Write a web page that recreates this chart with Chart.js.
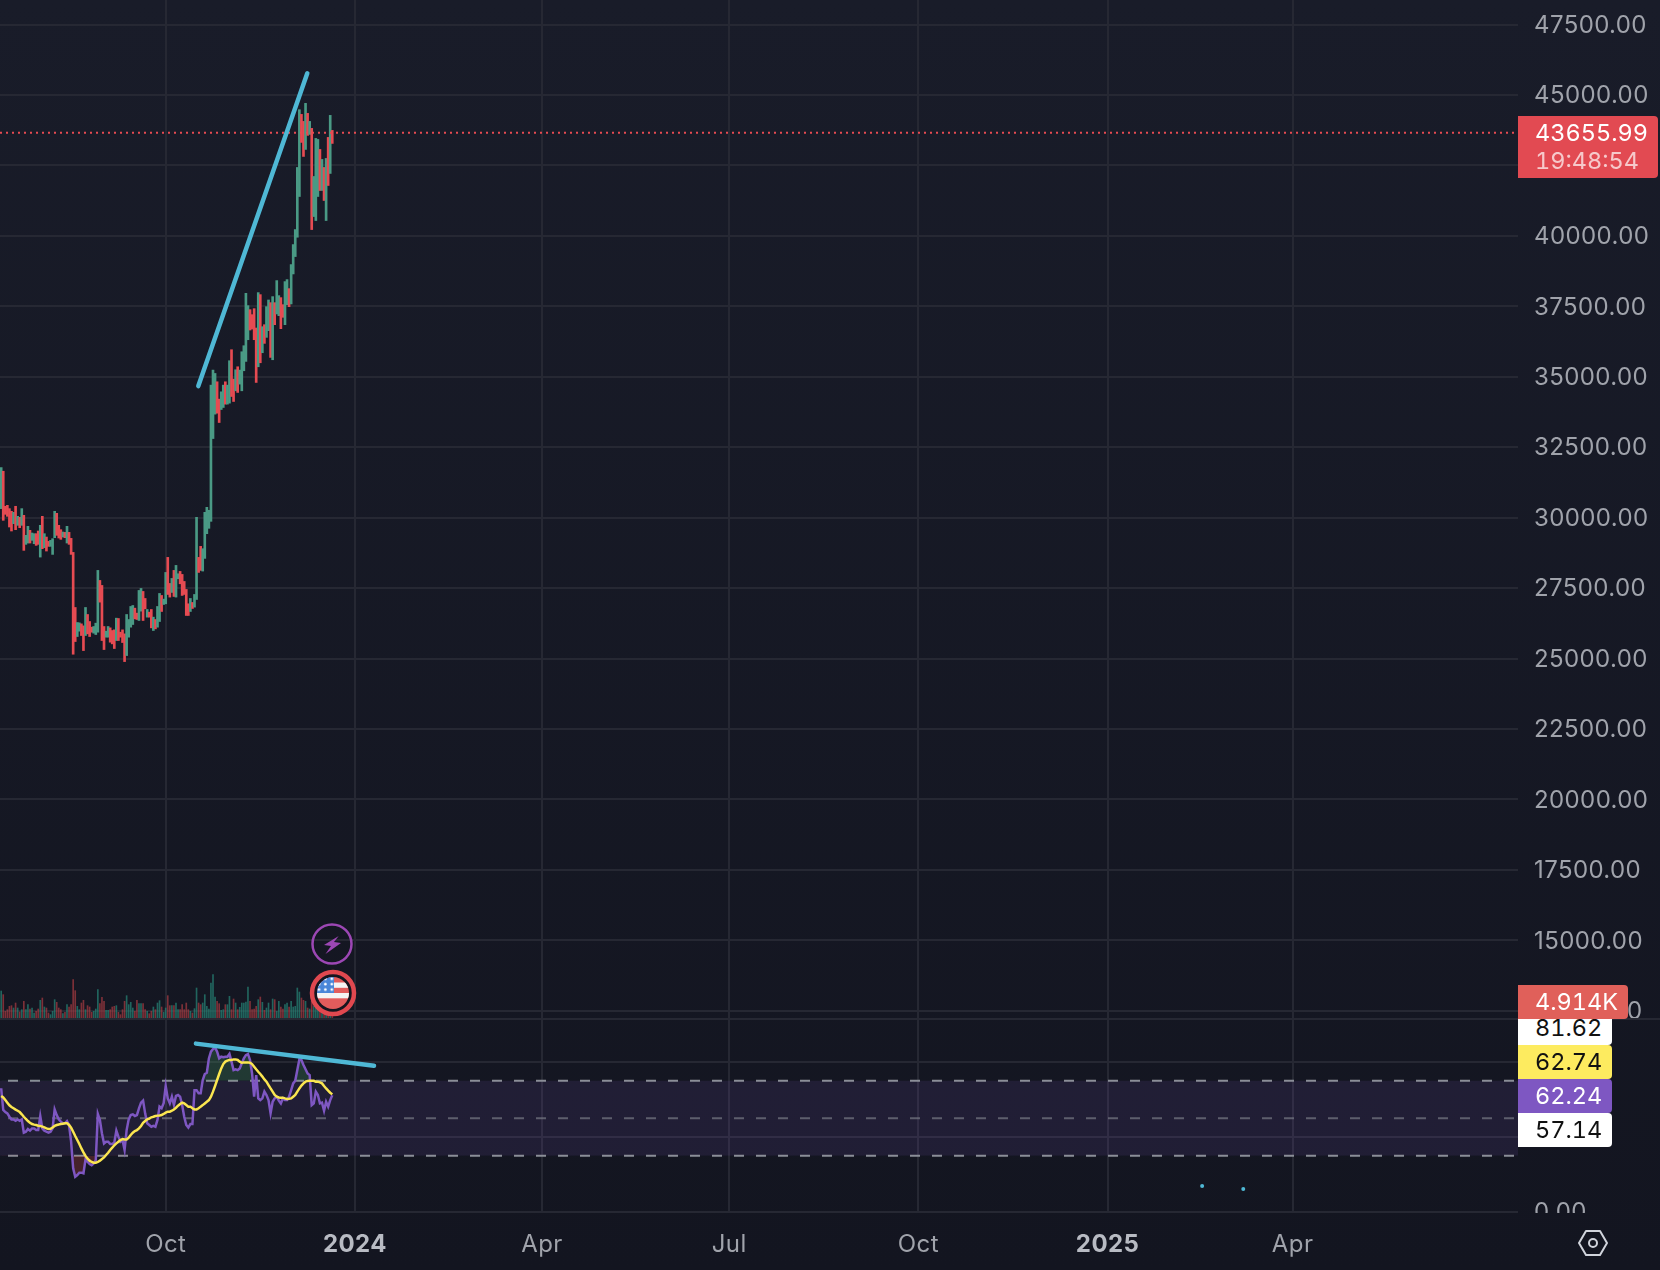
<!DOCTYPE html>
<html>
<head>
<meta charset="utf-8">
<title>BTCUSDT daily</title>
<script src="https://cdn.jsdelivr.net/npm/chart.js@4"></script>
<style>
  html, body { margin: 0; padding: 0; }
  body { width: 1660px; height: 1270px; position: relative; overflow: hidden;
         background: linear-gradient(180deg, #191c29 0%, #131520 100%);
         font-family: Inter, "Noto Sans", sans-serif; }
  canvas { position: absolute; left: 0; }
  #sep { position: absolute; left: 0; top: 1018px; width: 1660px; height: 2px; background: #262833; }
  .tag { position: absolute; left: 1518px; box-sizing: border-box; padding-left: 17px; font-size: 23.5px;
         line-height: 34px; height: 34px; width: 94px; border-radius: 0 4px 4px 0; overflow: hidden;
         font-variant-numeric: tabular-nums; }
  #t-price { top: 116px; width: 140px; height: 62px; background: #e24a52; color: #fff; line-height: 28px; padding-top: 3px; }
  #t-price span { display: block; color: rgba(255,255,255,.7); }
  #t-vol  { top: 985px; width: 110px; background: #e0605a; color: #fff; z-index: 3; }
  #t-high { top: 1011px; height: 34px; background: #fff; color: #111; }
  #t-ma   { top: 1045px; background: #fdeb5f; color: #111; }
  #t-rsi  { top: 1079px; background: #7e57c2; color: #fff; }
  #t-low  { top: 1113px; background: #fff; color: #111; }
  svg.icon { position: absolute; }
</style>
</head>
<body>
<canvas id="priceChart" style="top:0" width="1660" height="1020"></canvas>
<canvas id="rsiChart" style="top:1020px" width="1660" height="250"></canvas>
<div id="sep"></div>

<div class="tag" id="t-price">43655.99<span>19:48:54</span></div>
<div class="tag" id="t-high">81.62</div>
<div class="tag" id="t-ma">62.74</div>
<div class="tag" id="t-rsi">62.24</div>
<div class="tag" id="t-low">57.14</div>
<div class="tag" id="t-vol">4.914K</div>

<svg class="icon" style="left:310px;top:922px" width="44" height="44" viewBox="0 0 44 44">
  <circle cx="22" cy="22" r="19.5" fill="none" stroke="#9c47b4" stroke-width="2.5"/>
  <path d="M28.7 14 L14 23 L21 24 L15.5 32 L31 21 L24 20 Z" fill="#9c47b4"/>
</svg>
<svg class="icon" style="left:307px;top:967px" width="52" height="52" viewBox="0 0 52 52">
  <defs>
    <clipPath id="flagClip"><circle cx="26" cy="26" r="16"/></clipPath>
    <pattern id="stars" width="6.4" height="5.4" patternUnits="userSpaceOnUse" x="9" y="9">
      <circle cx="3" cy="2.7" r="1.4" fill="#fff"/>
    </pattern>
  </defs>
  <circle cx="26" cy="26" r="21" fill="#14161f" stroke="#e0484f" stroke-width="4.5"/>
  <g clip-path="url(#flagClip)">
    <rect x="10" y="10" width="32" height="32" fill="#e25c5c"/>
    <rect x="10" y="15.5" width="32" height="5.3" fill="#f4f4f4"/>
    <rect x="10" y="26" width="32" height="5.3" fill="#f4f4f4"/>
    <rect x="10" y="10" width="17" height="16" fill="#4a86d8"/>
    <rect x="10" y="10" width="17" height="16" fill="url(#stars)"/>
  </g>
</svg>
<svg class="icon" style="left:1576px;top:1226px" width="34" height="34" viewBox="0 0 34 34">
  <path d="M3 17 L10 5 H24 L31 17 L24 29 H10 Z" fill="none" stroke="#d1d4dc" stroke-width="2" stroke-linejoin="round"/>
  <circle cx="17" cy="17" r="4" fill="none" stroke="#d1d4dc" stroke-width="2"/>
</svg>

<script>
// x axis is days counted from 1 Oct 2023; first candle is 80 days earlier
const firstDay = -80;
const lastPrice = 43655.99;

const highs = [
  31777,31647,30403,30438,30320,30225,30189,30403,30047,30012,30320,30083,29372,29692,29550,29455,29431,29431,29526,29727,
  30047,29431,29312,29158,29194,29253,30225,30154,29727,29573,29490,29478,29692,29478,29265,28767,26812,26279,26267,26231,
  26160,26812,26563,26314,26113,26137,26255,28128,27772,27594,26137,25971,26137,26089,25995,26018,26433,26421,25935,26018,
  25876,26563,26385,26848,26883,26788,26611,27417,27488,27381,27132,26741,26646,26741,26469,26385,26848,27310,27239,27108,
  28056,28590,27665,27843,28128,28305,28009,28092,27985,27736,27452,26943,27132,26990,27274,30012,28590,28981,28898,30189,
  30367,30261,34703,35237,35118,34822,34206,34466,34703,34822,34703,35569,35960,34917,35249,35355,35237,35888,36102,37962,
  37524,37382,37204,37417,36730,37986,37915,36777,36848,37488,37725,37630,37844,37630,38413,37879,37808,37559,38377,38448,
  38128,38981,39691,40224,42428,44478,44312,44063,44703,44348,44063,43815,42108,43459,43423,43068,42713,42428,42748,43495,
  44277,43743
];
const lows = [
  30320,29905,30118,30047,29668,29526,29787,29573,29727,29644,29727,28839,29052,29099,29099,29194,29075,29016,29052,28601,
  28898,28933,28815,28981,28981,28696,29289,29372,29277,29230,29312,29289,29099,29052,28696,25153,25603,25781,25971,25817,
  25283,25817,25876,25781,25935,25900,25852,25935,27002,25639,25319,25758,25758,25580,25521,25355,25639,25639,25758,25568,
  24892,25106,25758,26113,26208,26409,26385,26350,26682,26350,26765,26469,26469,26089,25995,26054,26113,26314,26670,26919,
  26943,27274,27180,27345,27203,27180,27831,27653,27239,27274,26528,26528,26670,26777,26824,27096,28056,28128,28104,28554,
  29431,29621,29869,32807,33673,33708,33376,33838,33910,34028,34028,34064,34300,34123,34502,34443,34739,34502,35213,35545,
  36315,36659,36694,36315,34798,35355,35497,35853,36185,36398,36635,35687,35604,36848,37228,37168,36706,37109,36848,37559,
  37488,37583,38649,39266,39952,41397,43317,42819,43068,43566,43601,40224,40686,40544,41397,41611,41611,41255,40544,41788,
  42215,43281
];
// 1 = green candle, 0 = red candle
const ups = [
  1,0,0,0,0,0,1,0,1,0,1,0,1,1,0,1,1,0,0,1,
  0,1,0,0,1,1,1,0,0,0,1,0,1,0,0,0,0,1,1,0,
  0,1,0,0,0,1,1,1,0,0,0,1,1,0,0,0,1,0,0,0,
  0,1,1,1,1,0,0,1,1,0,0,1,0,0,1,0,1,1,0,1,
  1,0,0,1,0,1,1,0,0,0,0,0,1,0,1,1,0,0,1,1,
  1,1,1,1,1,0,0,1,1,0,1,1,0,0,1,0,1,1,1,1,
  1,0,0,0,0,1,0,1,0,1,1,0,1,0,1,1,0,0,1,1,
  0,1,1,1,1,1,0,0,1,0,1,0,1,1,1,0,1,0,1,0,
  1,0
];
// volume, thousands
const volumes = [
  81,70,20,25,35,37,30,45,30,18,25,50,25,40,27,30,15,20,27,53,
  60,33,30,15,10,20,55,47,30,25,13,17,40,33,40,115,82,35,25,45,
  53,25,37,33,17,20,27,85,43,62,50,23,23,25,33,35,37,17,10,25,
  50,67,40,47,30,20,53,43,43,43,25,20,13,20,33,25,45,52,33,17,
  30,67,37,37,37,45,25,25,40,25,45,25,20,15,28,90,45,40,45,70,
  35,27,105,130,63,50,43,23,25,40,40,65,25,57,45,25,32,45,45,48,
  93,50,25,27,35,55,63,47,23,30,45,25,57,55,20,50,33,27,40,45,
  33,50,33,35,90,78,60,53,50,30,27,50,35,30,25,20,20,15,15,15,
  10,4.914
];
const rsiValues = [
  66.0,54.4,53.3,52.6,50.8,49.4,49.4,48.7,49.4,48.7,49.4,42.3,42.8,44.3,43.4,44.6,44.6,43.7,43.7,51.2,
  44.6,43.4,42.8,42.3,42.8,44.6,54.7,51.7,49.4,48.2,47.3,47.3,48.5,46.4,37.5,23.3,18.8,19.7,21.0,21.0,
  20.6,28.1,26.8,25.6,25.0,25.9,27.7,52.3,49.1,41.9,36.6,37.5,37.5,36.3,36.3,37.0,43.4,40.2,37.5,38.4,
  33.1,43.7,49.4,51.7,52.1,51.2,51.7,55.3,58.3,59.4,52.6,47.3,46.4,45.5,46.0,45.5,49.1,56.2,55.3,58.0,
  67.2,60.6,58.0,61.5,57.1,61.9,62.4,61.5,57.1,50.8,46.4,45.0,46.9,46.9,65.0,65.0,63.3,63.3,70.4,73.6,
  74.3,81.9,85.5,86.9,87.8,85.5,81.9,82.8,82.5,82.8,82.8,84.3,80.2,75.7,76.1,75.7,76.6,79.3,81.9,83.7,
  84.3,81.1,73.9,61.5,73.0,60.6,59.7,60.6,64.2,62.4,59.7,52.6,58.8,60.6,61.5,59.4,57.9,60.6,59.7,59.7,
  61.5,65.0,68.6,70.0,75.7,81.4,81.1,78.4,76.1,73.9,73.0,57.0,57.9,64.2,62.4,57.9,58.3,54.0,58.8,56.2,
  59.7,62.24
];
const rsiMa = [
  61.9,61.1,59.7,58.3,56.9,56.0,55.3,54.6,54.0,53.3,52.1,50.8,49.6,48.5,47.6,46.9,46.6,46.4,46.0,45.9,
  45.5,45.1,44.6,44.3,44.4,45.1,45.9,46.4,46.7,46.9,47.1,47.3,47.3,46.4,45.0,42.8,40.5,38.4,36.3,33.9,
  31.8,29.9,28.4,27.4,26.7,26.3,26.3,26.7,27.4,28.3,29.1,30.4,31.6,33.1,34.3,35.6,36.6,37.5,38.4,38.9,
  38.7,38.7,39.6,41.1,42.3,43.2,43.7,44.6,45.9,47.6,48.5,49.4,49.8,50.5,50.8,51.2,51.4,51.5,51.7,52.3,
  53.0,53.5,53.5,54.0,54.7,55.6,56.7,57.6,58.3,57.9,57.1,56.2,56.2,55.3,54.7,54.7,55.3,56.2,57.0,57.9,
  58.8,59.7,61.5,64.2,67.2,70.4,73.6,76.6,78.9,80.2,80.7,81.1,81.1,81.4,81.4,81.1,80.2,79.6,79.8,79.8,
  79.8,79.6,78.9,77.5,76.1,74.8,73.6,72.2,70.7,69.5,67.7,65.9,64.2,62.4,61.5,61.1,61.0,61.0,60.6,60.3,
  60.4,60.6,61.5,62.4,64.2,65.9,67.4,68.6,69.5,69.9,70.0,70.0,70.0,69.5,69.5,69.1,68.6,67.2,65.9,64.7,
  63.6,62.74
];

const priceTicks = [47500,45000,42500,40000,37500,35000,32500,30000,27500,25000,22500,20000,17500,15000,12500];
const rsiTicks = [0,40,80];
const rsiLevels = [70,50,30];
const timeTicks = [0,92,183,274,366,458,548];
const timeLabels = ['Oct','2024','Apr','Jul','Oct','2025','Apr'];

// hand drawn trend lines and the two stray drawing dots
const trendDays = [15.85,68.85];
const trendPrices = [34670,45770];
const rsiTrendDays = [14.7,101.3];
const rsiTrendValues = [89.8,78];
const dotDays = [504,524];
const dotValues = [13.9,12.3];

// visible ranges of the panes
const xMin = -80.58, xMax = 657.6;
const priceMin = 12172, priceMax = 48371;
const volMin = -6, volMax = 3054;
const rsiMin = -0.53, rsiMax = 102.4;

const GREEN = '#4a9a85', RED = '#e64b52', GRID = '#262833', BLUE = '#4fb8d5';
const GREEN_VOL = 'rgba(38,128,115,.75)', RED_VOL = 'rgba(170,60,65,.7)';
const LABEL = '#a0a3ab';

const days = highs.map((_, i) => firstDay + i);
const candleColors = ups.map((u) => (u ? GREEN : RED));
const volColors = ups.map((u) => (u ? GREEN_VOL : RED_VOL));
const line = (xs, ys) => xs.map((x, i) => ({ x, y: ys[i] }));
const hline = (v) => [{ x: xMin, y: v }, { x: xMax, y: v }];
const isYearTick = (ctx) => ctx.tick && /^20/.test(timeLabels[timeTicks.indexOf(ctx.tick.value)] || '');

Chart.defaults.animation = false;
Chart.defaults.font.family = 'Inter, "Noto Sans", sans-serif';
Chart.defaults.responsive = false;
Chart.defaults.layout.autoPadding = false;
Chart.defaults.plugins.legend.display = false;
Chart.defaults.plugins.tooltip.enabled = false;

// inter's proportional digits run a little narrower than the reference
Chart.register({
  id: 'spacedText',
  beforeDraw(chart) { chart.ctx.letterSpacing = '0.4px'; },
});

function xScale(withLabels) {
  return {
    type: 'linear', min: xMin, max: xMax, offset: false,
    afterBuildTicks: (s) => { s.ticks = timeTicks.map((value) => ({ value })); },
    afterFit: (s) => {
      s.height = withLabels ? 57 : 0;
      s.paddingLeft = 0; s.paddingRight = 0;
    },
    grid: { color: GRID, lineWidth: 2, drawTicks: false, offset: false },
    border: { display: false },
    ticks: {
      display: withLabels, autoSkip: false, maxRotation: 0, padding: 17, z: 1,
      callback: (v) => timeLabels[timeTicks.indexOf(v)],
      color: (ctx) => (isYearTick(ctx) ? '#b8bbc3' : LABEL),
      font: (ctx) => ({ size: 24, weight: isYearTick(ctx) ? 'bold' : 'normal' }),
    },
  };
}

function yScale(min, max, tickValues) {
  return {
    position: 'right', min, max,
    afterBuildTicks: (s) => { s.ticks = tickValues.map((value) => ({ value })); },
    afterFit: (s) => {
      s.width = 142;
      s.paddingTop = 0; s.paddingBottom = 0;
    },
    grid: { color: GRID, lineWidth: 2, drawTicks: false },
    border: { display: false },
    ticks: { autoSkip: false, padding: 16, labelOffset: 1, color: LABEL, font: { size: 24 },
             callback: (v) => v.toFixed(2) },
  };
}

// datasets are listed top-most first, chart.js paints them last to first
new Chart(document.getElementById('priceChart'), {
  type: 'bar',
  data: {
    datasets: [
      { type: 'line', data: line(trendDays, trendPrices), borderColor: BLUE, borderWidth: 4.5,
        borderCapStyle: 'round', pointRadius: 0 },
      { type: 'line', data: hline(lastPrice), borderColor: RED, borderWidth: 2,
        borderDash: [2, 4], pointRadius: 0 },
      { data: days.map((d, i) => ({ x: d, y: [lows[i], highs[i]] })), backgroundColor: candleColors,
        barThickness: 2, grouped: false },
      { data: line(days, volumes), yAxisID: 'yVol', backgroundColor: volColors,
        barThickness: 1, grouped: false },
    ],
  },
  options: {
    layout: { padding: 0 },
    scales: {
      x: xScale(false),
      y: yScale(priceMin, priceMax, priceTicks),
      yVol: { display: false, min: volMin, max: volMax },
    },
  },
});

// wipes the tail of the 0.00 label: the price scale clips it at the pane edge
const clipTimeStrip = {
  id: 'clipTimeStrip',
  afterDatasetsDraw(chart) {
    const a = chart.chartArea;
    chart.ctx.clearRect(0, a.bottom, chart.width, chart.height - a.bottom);
  },
};

new Chart(document.getElementById('rsiChart'), {
  type: 'line',
  data: {
    datasets: [
      { data: line(rsiTrendDays, rsiTrendValues), borderColor: BLUE, borderWidth: 4.5,
        borderCapStyle: 'round', pointRadius: 0 },
      { data: line(dotDays, dotValues), showLine: false, pointRadius: 2, pointBorderWidth: 0,
        pointBackgroundColor: BLUE },
      { data: line(days, rsiMa), borderColor: '#fbe650', borderWidth: 2.5, pointRadius: 0 },
      { data: line(days, rsiValues), borderColor: '#7e57c2', borderWidth: 2.5, pointRadius: 0 },
      { data: line(days, rsiValues), borderWidth: 0, pointRadius: 0,
        fill: { target: { value: 70 }, above: 'rgba(70,150,100,.28)', below: 'transparent' } },
      { data: line(days, rsiValues), borderWidth: 0, pointRadius: 0,
        fill: { target: { value: 30 }, above: 'transparent', below: 'rgba(200,70,70,.28)' } },
      ...rsiLevels.map((v) => ({
        data: hline(v), borderColor: v === 50 ? 'rgba(120,123,134,.7)' : '#8b8e98', borderWidth: 2,
        borderDash: [10, 12], borderDashOffset: 14, pointRadius: 0,
      })),
      { data: hline(rsiLevels[0]), borderWidth: 0, pointRadius: 0,
        fill: { target: { value: rsiLevels[2] }, above: 'rgba(126,87,194,.13)', below: 'transparent' } },
    ],
  },
  options: {
    layout: { padding: 0 },
    scales: { x: xScale(true), y: yScale(rsiMin, rsiMax, rsiTicks) },
  },
  plugins: [clipTimeStrip],
});
</script>
</body>
</html>
